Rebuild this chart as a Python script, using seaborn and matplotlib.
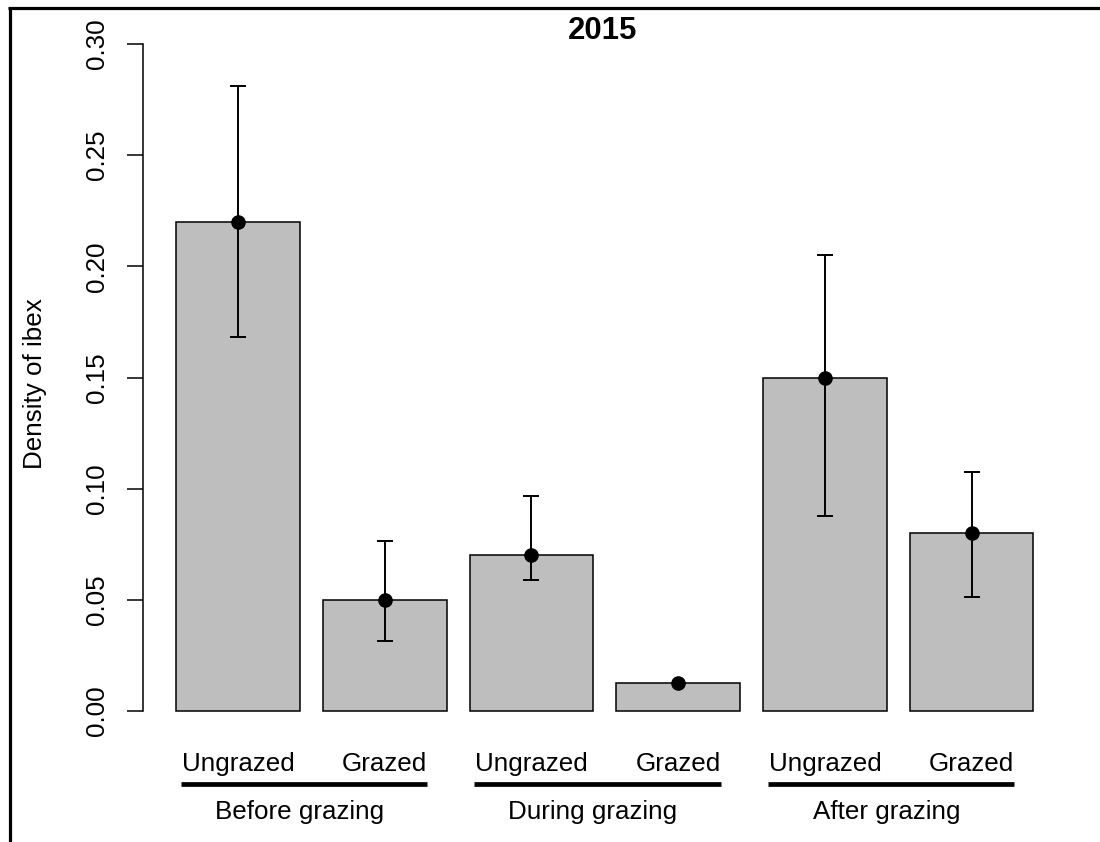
import matplotlib
matplotlib.use("Agg")
import matplotlib.pyplot as plt
import matplotlib.transforms as mtransforms
from matplotlib.lines import Line2D
import numpy as np
import pandas as pd
import seaborn as sns

# ---- data ----
bar_ids = ["Before-Ungrazed", "Before-Grazed", "During-Ungrazed",
           "During-Grazed", "After-Ungrazed", "After-Grazed"]
conditions = ["Ungrazed", "Grazed", "Ungrazed", "Grazed", "Ungrazed", "Grazed"]
periods = ["Before grazing", "During grazing", "After grazing"]
means = [0.22, 0.05, 0.07, 0.0125, 0.15, 0.08]
upper = [0.281, 0.0765, 0.0967, 0.0125, 0.205, 0.1075]
lower = [0.168, 0.0315, 0.059, 0.0125, 0.0877, 0.0513]
yticks = [0.00, 0.05, 0.10, 0.15, 0.20, 0.25, 0.30]
ytick_labels = ["0.00", "0.05", "0.10", "0.15", "0.20", "0.25", "0.30"]
title = "2015"
ylabel = "Density of ibex"

sns.set_style("white")
plt.rcParams["font.family"] = ["Liberation Sans", "DejaVu Sans"]
plt.rcParams["text.color"] = "black"
plt.rcParams["xtick.color"] = "black"
plt.rcParams["ytick.color"] = "black"
plt.rcParams["axes.labelcolor"] = "black"

W, H = 1100, 842
fig = plt.figure(figsize=(W / 100, H / 100), dpi=100)

def fx(px):
    return px / W

def fy(py):
    return 1 - py / H

# axes placement (pixel based)
ax_left, ax_right = 142.6, 1067.0
ax_top, ax_bottom = 21.8, 733.2
ax = fig.add_axes([fx(ax_left), fy(ax_bottom), fx(ax_right - ax_left),
                   (ax_bottom - ax_top) / H])

df = pd.DataFrame({"bar": bar_ids, "density": means})
sns.barplot(data=df, x="bar", y="density", order=bar_ids, color="#BEBEBE",
            saturation=1, edgecolor="black", linewidth=1.1, width=0.843,
            errorbar=None, ax=ax)

x = np.arange(len(means))
m = np.array(means)
lo = np.array(lower)
up = np.array(upper)
mask = (up - lo) > 1e-9
ax.errorbar(x[mask], m[mask], yerr=[m[mask] - lo[mask], up[mask] - m[mask]],
            fmt="none", ecolor="black", elinewidth=1.4, capsize=6,
            capthick=1.4, zorder=3)
ax.plot(x, m, "o", color="black", ms=9.5, zorder=4)

ax.set_xlim(-0.65, 5.65)
ax.set_ylim(-0.01, 0.31)
ax.set_yticks(yticks)
ax.set_yticklabels(ytick_labels, rotation=90, va="center", fontsize=18.7,
                   color="black")
ax.tick_params(axis="y", left=True, length=11.5, width=1.1, pad=12.5,
               colors="black", direction="out")
ax.set_xticks(x)
ax.set_xticklabels(conditions, fontsize=18.7, color="black")
ax.tick_params(axis="x", bottom=False, length=0, pad=13.5)
ax.set_xlabel("")
ax.set_ylabel("")
for s in ["top", "right", "bottom"]:
    ax.spines[s].set_visible(False)
ax.spines["left"].set_bounds(0, 0.30)
ax.spines["left"].set_linewidth(1.1)
ax.spines["left"].set_color("black")
ax.set_facecolor("white")

# group lines and labels
trans = mtransforms.blended_transform_factory(ax.transData, fig.transFigure)
for i, p in enumerate(periods):
    x0 = 2 * i - 0.39
    x1 = 2 * i + 1 + 0.29
    ax.add_line(Line2D([x0, x1], [fy(784), fy(784)], transform=trans,
                       color="black", lw=3.4, clip_on=False,
                       solid_capstyle="butt"))
    ax.text((x0 + x1) / 2 - 0.03, fy(812), p, transform=trans, ha="center",
            va="center", fontsize=18.7, color="black")

fig.text(fx(603), fy(31), title, ha="center", va="center",
         fontsize=22.4, fontweight="bold", color="black")
fig.text(fx(35), fy(384), ylabel, rotation=90, ha="center", va="center",
         fontsize=18.7, color="black")

# outer frame (top and left edges)
fig.add_artist(Line2D([fx(8), 1], [fy(8), fy(8)], transform=fig.transFigure,
                      color="black", lw=2.3, solid_capstyle="butt"))
fig.add_artist(Line2D([fx(9.5), fx(9.5)], [fy(7), 0], transform=fig.transFigure,
                      color="black", lw=2.3, solid_capstyle="butt"))

fig.savefig("out.png", dpi=100, facecolor="white")
